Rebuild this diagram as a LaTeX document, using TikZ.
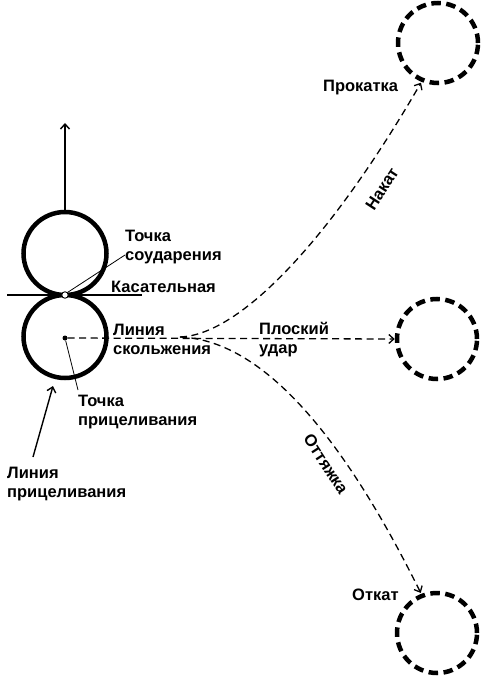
\documentclass[tikz,border=0pt]{standalone}
\usepackage{fontspec}
\setmainfont{Liberation Sans}
\usetikzlibrary{arrows.meta}
\begin{document}
\begin{tikzpicture}[x=1pt,y=-1pt,
  lbl/.style={font=\bfseries\fontsize{16.5}{19}\selectfont, inner sep=0pt, align=left, anchor=base west},
  rlbl/.style={font=\bfseries\fontsize{16.5}{19}\selectfont, inner sep=0pt},
  ball/.style={circle, draw, line width=4.5pt, minimum size=83pt, inner sep=0pt},
  ghost/.style={circle, draw, line width=4.5pt, minimum size=80pt, inner sep=0pt, dash pattern=on 9.5pt off 5.5pt},
  route/.style={line width=1.3pt, dash pattern=on 7pt off 4.5pt, -{Straight Barb[length=5pt,width=9pt,line width=1.3pt]}},
  solidarrow/.style={line width=1.4pt, -{Straight Barb[length=5pt,width=9pt,line width=1.4pt]}},
  leader/.style={line width=0.8pt}]
\useasboundingbox (0,0) rectangle (485,676);

% balls
\node[ball] (top) at (65,253.5) {};
\node[ball] (cue) at (65,336.5) {};
\node[circle, fill=black, inner sep=0pt, minimum size=5pt] (dot) at (65,338) {};

% tangent line and contact point
\coordinate (tanL) at (7,295);
\coordinate (tanR) at (142,295);
\draw[line width=1.1pt] (tanL) -- (tanR);
\node[circle, draw, fill=white, line width=0.9pt, inner sep=0pt, minimum size=6.5pt] (cp) at (65,295) {};

% ghost balls
\node[ghost] (g1) at (438,43) {};
\node[ghost] (g2) at (437,339) {};
\node[ghost] (g3) at (437,633) {};

% labels
\node[lbl] (tsoud) at (125,260) {Точка\\соударения};
\node[lbl] (kas) at (111,292) {Касательная};
\node[lbl] (lsk) at (113,354) {Линия\\скольжения};
\node[lbl] (tpr) at (78,425) {Точка\\прицеливания};
\node[lbl] (lpr) at (7,497) {Линия\\прицеливания};
\node[lbl] (plos) at (259,353) {Плоский\\удар};
\node[lbl] (prok) at (323,92) {Прокатка};
\node[lbl] (otk) at (352,600) {Откат};
\node[rlbl, rotate=57] (nak) at (382,189) {Накат};
\node[rlbl, rotate=-57] (ott) at (326,464) {Оттяжка};

% up arrow
\coordinate (upend) at (65,123);
\draw[solidarrow] (top.north) -- (upend);

% aiming line arrow
\coordinate (aimtail) at (33,457);
\coordinate (aimtip) at (53,386);
\draw[solidarrow] (aimtail) -- (aimtip);

% leaders
\coordinate (tsoudL) at (125,255);
\draw[leader] (cp.north east) -- (tsoudL);
\coordinate (tprL) at (78,390);
\draw[leader] (dot) -- (tprL);

% trajectories
\coordinate (split) at (180,337);
\draw[route] (dot) -- (g2.west);
\draw[route, shorten >=1pt] (split) .. controls (240,335) and (330,240) .. (g1.247);
\draw[route, shorten >=1pt] (split) .. controls (260,340) and (340,430) .. (g3.112);
\end{tikzpicture}
\end{document}
